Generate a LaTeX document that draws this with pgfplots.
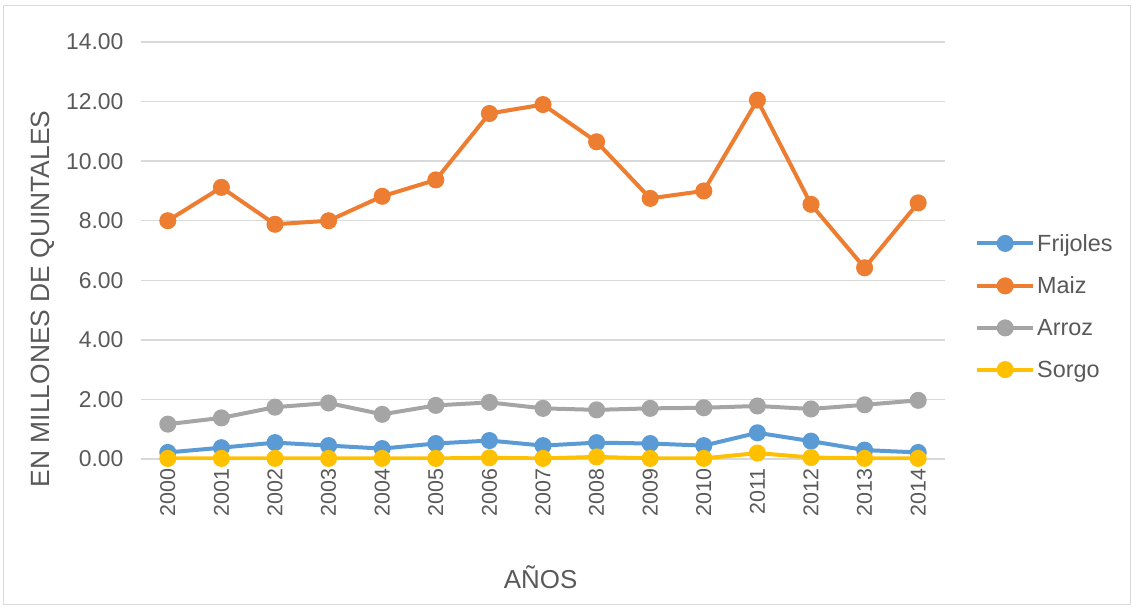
\documentclass[border=0pt]{standalone}
\usepackage{pgfplots}
\pgfplotsset{compat=1.18}
\usepackage{fontspec}
\setmainfont{Liberation Sans}
\definecolor{cFri}{HTML}{5B9BD5}
\definecolor{cMai}{HTML}{ED7D31}
\definecolor{cArr}{HTML}{A5A5A5}
\definecolor{cSor}{HTML}{FFC000}
\definecolor{cTxt}{HTML}{595959}
\definecolor{cGrid}{HTML}{D9D9D9}
\begin{document}
\begin{tikzpicture}
\useasboundingbox (0,0) rectangle (1133bp,-607bp);
\draw[cGrid, line width=1bp] (3bp,-5bp) rectangle (1130bp,-604bp);
\begin{axis}[
  at={(141bp,-459bp)}, anchor=south west,
  scale only axis, width=804bp, height=417bp,
  xmin=-0.5, xmax=14.5, ymin=0, ymax=14,
  xtick={0,...,14},
  xticklabels={2000,2001,2002,2003,2004,2005,2006,2007,2008,2009,2010,2011,2012,2013,2014},
  ytick={0,2,...,14},
  yticklabel={\pgfmathprintnumber[fixed,fixed zerofill,precision=2]{\tick}},
  /pgf/number format/assume math mode=true,
  x tick label style={rotate=90, anchor=east, font=\fontsize{21.5}{24}\selectfont, text=cTxt},
  y tick label style={font=\fontsize{23}{26}\selectfont, text=cTxt},
  xticklabel shift=6bp,
  yticklabel shift=14bp,
  axis line style={draw=none},
  tick style={draw=none},
  ymajorgrids, major grid style={cGrid, line width=1.3bp},
  xlabel={AÑOS}, ylabel={EN MILLONES DE QUINTALES},
  xlabel style={at={(axis description cs:0.497,-0.283)}, anchor=center, font=\fontsize{26}{30}\selectfont, text=cTxt},
  ylabel style={at={(axis description cs:-0.122,0.384)}, anchor=center, rotate=0, font=\fontsize{26.5}{30}\selectfont, text=cTxt},
  legend style={at={(975bp-141bp,459bp-232bp)}, anchor=north west, draw=none, fill=none,
    font=\fontsize{23.5}{26}\selectfont, text=cTxt, row sep=20bp, inner sep=0pt,
    /tikz/every even column/.append style={column sep=2bp}},
  legend cell align=left,
  legend image code/.code={\draw[#1, mark repeat=2, mark phase=2] plot coordinates {(0bp,0bp) (28bp,0bp) (56bp,0bp)};},
  every axis plot/.append style={line width=4bp, mark=*, mark size=6.5bp, mark options={solid}},
]
\addplot[cFri, mark options={fill=cFri, draw=cFri}] coordinates {
(0,0.22) (1,0.38) (2,0.55) (3,0.45) (4,0.35) (5,0.52) (6,0.62) (7,0.45) (8,0.55) (9,0.52) (10,0.45) (11,0.88) (12,0.60) (13,0.30) (14,0.22)};
\addplot[cMai, mark options={fill=cMai, draw=cMai}] coordinates {
(0,8.00) (1,9.12) (2,7.88) (3,8.00) (4,8.82) (5,9.37) (6,11.60) (7,11.90) (8,10.65) (9,8.75) (10,9.00) (11,12.05) (12,8.55) (13,6.42) (14,8.60)};
\addplot[cArr, mark options={fill=cArr, draw=cArr}] coordinates {
(0,1.17) (1,1.38) (2,1.74) (3,1.88) (4,1.50) (5,1.80) (6,1.90) (7,1.70) (8,1.65) (9,1.70) (10,1.72) (11,1.78) (12,1.68) (13,1.82) (14,1.97)};
\addplot[cSor, mark options={fill=cSor, draw=cSor}] coordinates {
(0,0.02) (1,0.02) (2,0.02) (3,0.02) (4,0.02) (5,0.02) (6,0.04) (7,0.02) (8,0.07) (9,0.02) (10,0.02) (11,0.20) (12,0.05) (13,0.02) (14,0.02)};
\legend{Frijoles,Maiz,Arroz,Sorgo}
\end{axis}
\end{tikzpicture}
\end{document}
